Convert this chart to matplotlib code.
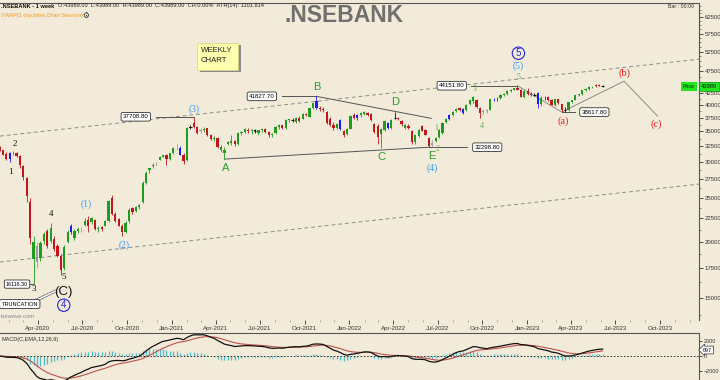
import numpy as np
import pandas as pd
import matplotlib
matplotlib.use("Agg")
import matplotlib.pyplot as plt
import matplotlib.dates as mdates
from matplotlib.patches import Rectangle
from matplotlib.ticker import FixedLocator, NullFormatter

plt.rcParams.update({"font.family": ["Liberation Sans", "DejaVu Sans"],
                     "axes.linewidth": 0.8})

BG = "#f3ebda"
W, H = 720, 380

# ------------------------------------------------------------------ data
first_week = "2020-01-13"
opens = [32300, 31800, 31200, 30500, 31300, 31400, 30900, 29300, 27600, 24500,
         18300, 19600, 18400, 20100, 21100, 20100, 20300, 19600, 18600, 17500,
         20000, 21000, 20400, 21100, 21300, 21800, 22300, 22100, 22300, 21300,
         21500, 21700, 22200, 25000, 23000, 22400, 21700, 21000, 22200, 23700,
         23400, 23900, 24400, 27000, 28700, 29300, 29700, 30300, 30800, 31000,
         30400, 31300, 32200, 32200, 31100, 30300, 35700, 36500, 35800, 35000,
         35300, 35600, 34300, 33700, 33800, 31900, 31300, 32800, 33000, 33300,
         32800, 34700, 34900, 35300, 35000, 35200, 34800, 35200, 35400, 34900,
         34300, 34700, 35800, 36100, 35700, 37000, 37100, 36800, 37500, 37300,
         38300, 37700, 39400, 40900, 39500, 39300, 38600, 37300, 36100, 35600,
         37100, 35000, 34500, 35500, 38100, 37400, 38000, 38300, 38500, 38200,
         36400, 36000, 34600, 35300, 36500, 35600, 37500, 37500, 36900, 35700,
         36000, 35000, 33100, 34200, 36000, 35300, 33800, 32700, 33300, 34000,
         34800, 36800, 37200, 38000, 38800, 39400, 39300, 39000, 40200, 40800,
         41000, 39500, 38600, 38900, 39100, 41200, 41300, 41400, 42200, 42400,
         42900, 43300, 43700, 43300, 41700, 43000, 42400, 42200, 42600, 40300,
         41500, 41600, 41000, 40100, 41200, 40200, 39000, 39100, 40600, 41100,
         42200, 42300, 43200, 43500, 43800, 44200, 44200, 44000]
highs = [32500, 31900, 31500, 31600, 31700, 31500, 31000, 29500, 27800, 24900,
         20600, 20000, 20100, 21000, 21300, 22000, 20600, 19800, 18800, 19700,
         21200, 21900, 21300, 21500, 21500, 22500, 22800, 22700, 22400, 21700,
         21600, 22300, 24700, 25300, 23300, 22600, 21900, 22200, 23700, 23800,
         24000, 24200, 27200, 28600, 29100, 29800, 29900, 30900, 31100, 31200,
         31400, 32300, 32800, 32500, 31300, 35800, 36200, 37708.8, 36000, 35700,
         35800, 35700, 34500, 34200, 34000, 32600, 32300, 33300, 34300, 33500,
         34900, 35100, 35600, 35600, 35400, 35500, 35300, 35700, 35600, 35000,
         34800, 35900, 36300, 36200, 37200, 37300, 37400, 37700, 37800, 38500,
         38500, 39600, 40500, 41827.7, 39900, 39700, 38900, 37600, 36700, 36600,
         37300, 35200, 35600, 38000, 38500, 38300, 38700, 38900, 38700, 38400,
         36600, 36300, 35700, 37100, 36800, 37200, 38600, 37700, 37000, 36400,
         36300, 35200, 34500, 35400, 36200, 35400, 34000, 33500, 34000, 35500,
         36800, 37400, 38300, 38800, 39500, 39600, 39500, 40300, 41200, 41840,
         41200, 39700, 39300, 39200, 41300, 41500, 41600, 42300, 42600, 43100,
         43500, 43700, 44151.8, 43400, 43100, 43600, 42700, 42600, 42700, 41800,
         41900, 41900, 41200, 41300, 41300, 40300, 39600, 40700, 41100, 42200,
         42400, 43300, 43600, 44000, 44100, 44500, 44500, 44200]
lows = [31700, 31000, 30300, 29900, 31000, 30700, 29100, 27300, 24500, 19800,
        16116.3, 17500, 18100, 19800, 19400, 19900, 19100, 18500, 16900, 17300,
        19900, 20800, 20200, 20900, 21000, 21600, 21000, 21900, 21200, 21000,
        21100, 21600, 22100, 22900, 22100, 21600, 20600, 20900, 22000, 23000,
        23200, 23600, 24300, 26800, 28400, 29000, 29400, 30200, 30700, 29500,
        30300, 31200, 31800, 31000, 29700, 30100, 35400, 35600, 34600, 34800,
        34900, 34200, 33500, 33300, 32200, 31500, 30405, 32600, 32700, 32500,
        32600, 34400, 34700, 34800, 34600, 34800, 34400, 34900, 34800, 34100,
        34000, 34600, 35500, 35400, 35500, 36700, 36800, 36500, 36700, 37200,
        37900, 37600, 39200, 39300, 38900, 38700, 36400, 35900, 35300, 35400,
        35300, 34000, 34300, 35400, 37200, 37000, 37700, 38000, 37900, 36900,
        34700, 32800, 32155, 35100, 35400, 35400, 37200, 37000, 36000, 35400,
        35500, 32900, 32900, 34000, 35000, 34300, 32290, 32400, 33100, 33800,
        34600, 36500, 37000, 37800, 38600, 38800, 38200, 38800, 40000, 40500,
        39400, 37400, 38300, 38500, 39000, 40900, 40900, 41300, 41900, 42200,
        42700, 43100, 43200, 41600, 41500, 42200, 41900, 41900, 39500, 39900,
        41100, 40900, 40000, 39800, 40200, 38617.8, 38700, 38900, 40500, 41000,
        41800, 42100, 42900, 43300, 43600, 43900, 44000, 43800]
closes = [31900, 31100, 30500, 31300, 31400, 30900, 29500, 27700, 25200, 20400,
          20000, 18000, 19900, 20800, 19600, 21400, 19300, 18600, 17300, 19500,
          21000, 21700, 21100, 21300, 21300, 22200, 21700, 22500, 21300, 21400,
          21300, 22200, 24600, 23000, 22200, 21700, 21000, 22000, 23500, 23200,
          23800, 24100, 26900, 28400, 29000, 29500, 29600, 30800, 31000, 30400,
          31300, 32100, 32200, 31100, 30100, 35600, 35800, 35800, 34800, 35300,
          35500, 34300, 33700, 33900, 32300, 32300, 31900, 33100, 33300, 32800,
          34700, 34900, 35400, 35000, 35200, 35000, 35200, 35400, 34900, 34300,
          34600, 35800, 36100, 35600, 37000, 37200, 37100, 37500, 36900, 38300,
          38100, 39400, 40400, 39500, 39300, 39000, 36600, 36100, 35600, 36400,
          35500, 34400, 35400, 37900, 37400, 38100, 38500, 38700, 38100, 37100,
          34900, 34100, 35500, 36900, 35600, 37000, 37500, 37200, 36300, 36200,
          35700, 33100, 34400, 35300, 35100, 34400, 32500, 33000, 33800, 35300,
          36600, 37200, 38000, 38700, 39300, 39000, 38400, 40100, 41000, 41600,
          39600, 38500, 38900, 39000, 41200, 41250, 41350, 42100, 42400, 42900,
          43300, 43600, 43300, 41700, 42900, 42400, 42100, 42200, 40300, 41500,
          41500, 41100, 40100, 41200, 40400, 39000, 39100, 40600, 41000, 42100,
          42300, 43200, 43500, 43800, 43900, 44100, 44100, 43989]

blue_bars = [3, 21, 53, 93, 100, 105, 114, 132, 136, 145, 146, 158, 160]
gray_bars = [11, 24, 46, 52, 59, 127, 142, 143]
doji_bars = [56, 75, 86, 116, 157, 166, 177]

# Elliott wave labels: text, date, price, kind
wave_text = ["1", "2", "3", "4", "5", "(C)", "4",
             "(1)", "(2)", "(3)", "A", "B", "C", "D", "E", "(4)",
             "1", "2", "3", "4", "5", "(5)", "5", "(a)", "(b)", "(c)"]
wave_date = ["2020-02-04", "2020-02-14", "2020-03-24", "2020-04-29", "2020-05-24",
             "2020-05-24", "2020-05-24", "2020-07-10", "2020-09-24", "2021-02-15",
             "2021-04-22", "2021-10-25", "2022-03-08", "2022-04-04", "2022-06-19",
             "2022-06-19", "2022-06-29", "2022-07-02", "2022-09-15", "2022-09-29",
             "2022-12-14", "2022-12-14", "2022-12-14", "2023-03-15", "2023-07-20",
             "2023-09-24"]
wave_price = [28470, 32900, 15720, 22970, 16700, 15480, 14480,
              24200, 19650, 39200, 29100, 43930, 30770, 40620, 30920, 29090,
              35560, 32000, 43400, 35960, 46060, 48820, 52070, 36870, 47060, 36400]
wave_kind = ["minor", "minor", "minor", "minor", "minor", "primary", "circle",
             "inter", "inter", "inter", "tri", "tri", "tri", "tri", "tri", "inter",
             "sub", "sub", "sub", "sub", "sub", "inter", "circle",
             "corr", "corr", "corr"]

# price tags at pivots: text, box centre date, level, leader line start, end
tag_text = ["16116.30", "37708.80", "41827.70", "44151.80", "32298.80", "38617.80"]
tag_date = ["2020-02-18", "2020-10-19", "2021-07-05", "2022-07-30",
            "2022-10-11", "2023-05-19"]
tag_level = [16116.3, 37708.8, 41827.7, 44151.8, 32298.8, 38617.8]
tag_line_from = ["2020-03-07", "2020-11-29", "2021-08-15", "2022-09-08",
                 "2022-06-13", "2023-03-13"]
tag_line_to = ["2020-03-24", "2021-02-15", "2021-10-25", "2022-12-12",
               "2022-08-31", "2023-04-10"]

# trend / channel lines
chan_dates = ["2020-01-14", "2023-12-20"]
chan_upper = [34180, 50520]
chan_lower = [18030, 26790]
tri_low_dates = ["2021-04-19", "2022-06-13"]
tri_low_price = [30405, 32298.8]
tri_up_dates = ["2021-10-25", "2022-06-18"]
tri_up_price = [41827.7, 37400]
path_dates = ["2022-12-12", "2023-03-13", "2023-07-19", "2023-09-26"]
path_price = [44151.8, 38617.8, 45180, 37830]

y_labeled = [15000, 17500, 20000, 22500, 25000, 27500, 30000, 32500, 35000,
             37500, 40000, 42500, 47500, 52500, 57500, 62500]
last_price = "43989"
macd_last = "697"

# ------------------------------------------------------------------ figure
fig = plt.figure(figsize=(W / 100, H / 100), dpi=100, facecolor=BG)
ax = fig.add_axes([0, 1 - 320 / H, 699 / W, 317 / H], facecolor=BG)
axm = fig.add_axes([0, 0, 699 / W, 47 / H], facecolor=BG)

D = lambda s: mdates.date2num(pd.to_datetime(s))
dates = pd.date_range(first_week, periods=len(closes), freq="7D")
x = mdates.date2num(dates)
o, hi, lo, c = (np.array(v, float) for v in (opens, highs, lows, closes))

cols = np.where(c >= o, "#1e9c1e", "#c3161c").astype(object)
cols[blue_bars] = "#1b1bf5"
cols[gray_bars] = "#9c9c9c"
cols[doji_bars] = "#111111"

ax.vlines(x, lo, hi, colors=list(cols), lw=0.6, zorder=3)
b0, b1 = np.minimum(o, c), np.maximum(o, c)
ax.bar(x, b1 - b0, bottom=b0, width=4.6, color=list(cols), linewidth=0, zorder=3)
ax.hlines(c[doji_bars], x[doji_bars] - 2.6, x[doji_bars] + 2.6,
          colors="#111111", lw=0.8, zorder=3)

ax.set_yscale("log")
ax.set_ylim(13430, 67200)
ax.set_xlim(D("2020-01-14"), D("2023-12-20"))

# channel and pattern lines
ax.plot([D(d) for d in chan_dates], chan_upper, ls=(0, (4, 3)), color="#8c8c8c", lw=0.7)
ax.plot([D(d) for d in chan_dates], chan_lower, ls=(0, (4, 3)), color="#8c8c8c", lw=0.7)
ax.plot([D(d) for d in tri_low_dates], tri_low_price, color="#555555", lw=0.7)
ax.plot([D(d) for d in tri_up_dates], tri_up_price, color="#555555", lw=0.7)
ax.plot([D(d) for d in path_dates], path_price, color="#8a8a8a", lw=0.7)

for i, (t, d, lev, d0, d1) in enumerate(zip(tag_text, tag_date, tag_level,
                                            tag_line_from, tag_line_to)):
    ax.plot([D(d0), D(d1)], [lev, lev], color="#555555", lw=0.7, zorder=2)
    ax.text(D(d), lev, t, fontsize=3.9 if i == 0 else 4.4, ha="center", va="center",
            zorder=5,
            bbox=dict(boxstyle="round,pad=0.3", fc="white", ec="#333333", lw=0.6))

styles = {
    "minor": dict(color="#111111", fontsize=6.5, family="Liberation Serif"),
    "primary": dict(color="#111111", fontsize=9.5),
    "inter": dict(color="#3a9cf0", fontsize=7, family="Liberation Serif"),
    "tri": dict(color="#2c9a2c", fontsize=8),
    "sub": dict(color="#5fb04f", fontsize=5.8, family="Liberation Serif"),
    "corr": dict(color="#f01a1a", fontsize=7.5, family="Liberation Serif"),
    "circle": dict(color="#2323e0", fontsize=7,
                   bbox=dict(boxstyle="circle,pad=0.12", fc="none", ec="#2323e0", lw=0.8)),
}
for t, d, p, k in zip(wave_text, wave_date, wave_price, wave_kind):
    ax.text(D(d), p, t, ha="center", va="center", zorder=6, **styles[k])

# truncation callout
ax.annotate("", xy=(D("2020-05-12"), 15650), xytext=(D("2020-03-20"), 14700),
            arrowprops=dict(arrowstyle="-", color="#777777", lw=2.2), zorder=4)
ax.annotate("", xy=(D("2020-05-12"), 15650), xytext=(D("2020-03-20"), 14700),
            arrowprops=dict(arrowstyle="-", color="white", lw=1.0), zorder=4)
ax.text(D("2020-01-17"), 14560, "TRUNCATION", fontsize=4.1, ha="left", va="center",
        zorder=5, bbox=dict(boxstyle="round,pad=0.35", fc="white", ec="#333333", lw=0.6))

# axes cosmetics
for sp in ("left", "bottom"):
    ax.spines[sp].set_visible(False)
ax.spines["top"].set_color("#555555")
ax.spines["right"].set_color("#555555")
ax.yaxis.tick_right()
ax.yaxis.set_major_locator(FixedLocator(y_labeled))
ax.yaxis.set_major_formatter(plt.FuncFormatter(lambda v, p: f"{v:.0f}"))
ax.yaxis.set_minor_locator(FixedLocator(np.arange(13750, 67000, 1250)))
ax.yaxis.set_minor_formatter(NullFormatter())
ax.tick_params(axis="y", which="major", labelsize=4.3, length=3, width=0.6,
               pad=1, colors="#333333")
ax.tick_params(axis="y", which="minor", length=1.5, width=0.5, colors="#555555")
ax.xaxis.set_major_locator(mdates.MonthLocator(bymonth=[1, 4, 7, 10]))
ax.xaxis.set_major_formatter(mdates.DateFormatter("%b-%Y"))
ax.xaxis.set_minor_locator(mdates.MonthLocator())
ax.tick_params(axis="x", which="major", labelsize=4.4, length=3, width=0.6,
               pad=1.5, colors="#333333")
ax.tick_params(axis="x", which="minor", length=1.5, width=0.4, colors="#777777")

# ---------------------------------------------------------------- MACD
cs = pd.Series(c)
macd = cs.ewm(span=12, adjust=False).mean() - cs.ewm(span=26, adjust=False).mean()
signal = macd.ewm(span=9, adjust=False).mean()
hist = macd - signal
axm.vlines(x, 0, hist, colors="#4dbfcc", lw=0.9)
axm.plot(x, signal, color="#c0504d", lw=0.8)
axm.plot(x, macd, color="#111111", lw=0.9)
axm.axhline(0, color="#222222", lw=0.6, ls=(0, (2, 2)))
axm.set_xlim(ax.get_xlim())
axm.set_ylim(-3200, 3067)
axm.set_xticks([])
axm.yaxis.tick_right()
axm.set_yticks([-2000, 0, 2000])
axm.tick_params(axis="y", labelsize=3.9, length=2.5, width=0.6, pad=0.8, colors="#333333")
for lab in axm.get_yticklabels():
    lab.set_va("center")
for sp in ("left", "bottom"):
    axm.spines[sp].set_visible(False)
axm.spines["top"].set_color("#555555")
axm.spines["right"].set_color("#555555")

# ---------------------------------------------------------------- header & boxes
def ftxt(px, py, s, **kw):
    fig.text(px / W, 1 - py / H, s, **kw)

ftxt(1, 6, ".NSEBANK - 1 week", fontsize=4.1, weight="bold", va="center", color="#111111")
ftxt(58, 6, "O:43989.00  L:43989.00  H:43989.00  C:43989.00  CH:0.00%  ATR(14): 1101.814",
     fontsize=4.1, va="center", color="#222222")
ftxt(1, 15, "VWAP(1 day,false,Chart Session)", fontsize=4.0, va="center", color="#f29a1c")
ftxt(86, 15, "\u2699", fontsize=5.5, va="center", ha="center", color="#222222",
     family="DejaVu Sans")
ftxt(344, 15, ".NSEBANK", fontsize=16.5, va="center", ha="center", color="#707070",
     weight="bold")
ftxt(681, 6, "Bar : 00:00", fontsize=3.8, va="center", ha="center", color="#333333")
ftxt(1, 340, "MACD(C,EMA,12,26,9)", fontsize=4.0, va="center", color="#333333")
ftxt(1, 316, "ivewave.com", fontsize=4.2, va="center", color="#888888")

fig.patches.append(Rectangle((200 / W, 1 - 72 / H), 41 / W, 27 / H,
                             transform=fig.transFigure, fc="#8a8a8a", ec="none"))
fig.patches.append(Rectangle((197 / W, 1 - 70 / H), 41 / W, 27 / H,
                             transform=fig.transFigure, fc="#ffffae", ec="#d8d080", lw=0.5))
ftxt(201, 51, "WEEKLY", fontsize=5.6, va="center", color="#222222")
ftxt(201, 61, "CHART", fontsize=5.6, va="center", color="#222222")

ftxt(689, 86.5, "Price", fontsize=3.8, va="center", ha="center", color="#111111",
     bbox=dict(boxstyle="square,pad=0.3", fc="#22e622", ec="none"))
ftxt(701, 86.5, last_price, fontsize=4.2, va="center", ha="left", color="#111111",
     bbox=dict(boxstyle="square,pad=0.3", fc="#22e622", ec="#118811", lw=0.5))
ftxt(703, 350, macd_last, fontsize=4.0, va="center", ha="left", color="#111111",
     bbox=dict(boxstyle="larrow,pad=0.25", fc="white", ec="#333333", lw=0.5))

fig.savefig("out.png", dpi=100, facecolor=BG)
